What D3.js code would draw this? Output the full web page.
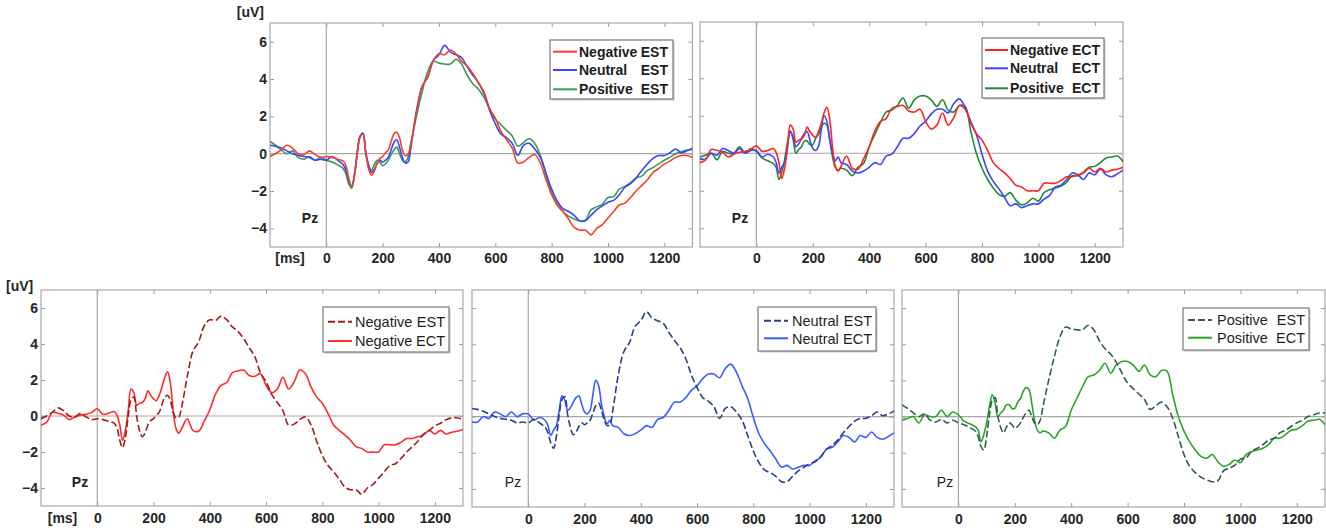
<!DOCTYPE html>
<html><head><meta charset="utf-8">
<script src="https://cdn.jsdelivr.net/npm/d3@7"></script>
<style>body{margin:0;background:#fff}</style></head>
<body>
<svg id="c" width="1326" height="530"></svg>
<script>
// ---- time points (ms) ----
const time = [-200,-180,-160,-140,-120,-100,-80,-60,-40,-20,0,20,40,
  60,70,80,90,100,110,120,130,140,150,160,170,180,190,200,210,220,230,240,250,260,270,280,290,300,
  320,340,360,380,400,420,440,460,480,500,520,540,560,580,600,620,640,660,680,700,720,740,760,780,800,
  820,840,860,880,900,920,940,960,980,1000,1020,1040,1060,1080,1100,1120,1140,1160,1180,1200,1220,1240,1260,1280,1300];

// ---- series values (uV) ----
const negativeEST = [-0.15,0.0,0.2,0.45,0.3,0.0,-0.05,0.15,-0.05,-0.2,-0.15,-0.2,-0.3,
  -0.4,-0.65,-1.35,-1.75,-1.2, 0.0,0.9,1.05,0.0,-0.8, -1.15,-0.95,-0.5,-0.25,-0.15, 0.05,0.2,0.65,1.05,1.15, 0.85,0.2,-0.1,-0.05,0.5,
  2.2,3.6,4.1,5.0,5.35, 5.3,5.55,5.35,4.95,4.7, 4.3,3.8,3.3,2.4,1.9, 1.2,0.75,0.3,-0.5,-0.45, -0.2,-0.05,-0.5,-1.4,-2.2,
  -2.75,-3.1,-3.5,-3.95,-4.1, -4.1,-4.35,-4.0,-3.8,-3.45, -3.1,-2.75,-2.65,-2.35,-2.0, -1.7,-1.4,-1.0,-0.8,-0.55, -0.4,-0.2,-0.1,-0.1,-0.2];
const neutralEST = [0.45,0.4,0.3,0.15,0.0,-0.1,-0.15,-0.2,-0.35,-0.3,-0.35,-0.15,-0.35,
  -0.6,-0.9,-1.45,-1.75,-1.1, 0.1,0.95,1.1,0.1,-0.6, -1.0,-0.85,-0.55,-0.35,-0.45, -0.35,-0.2,0.2,0.6,0.75, 0.35,-0.2,-0.5,-0.45,0.3,
  2.3,3.6,4.1,5.0,5.3, 5.8,5.45,5.3,5.15,4.65, 4.2,3.8,3.2,2.3,1.6, 1.05,0.85,0.55,-0.1,0.45, 0.55,0.25,-0.2,-1.05,-1.9,
  -2.55,-2.95,-3.1,-3.3,-3.6, -3.6,-3.3,-3.0,-2.8,-2.6, -2.5,-2.2,-1.8,-1.6,-1.3, -0.9,-0.55,-0.25,-0.1,-0.1, 0.05,0.25,0.05,0.15,0.3];
const positiveEST = [0.65,0.45,0.2,0.0,0.15,-0.2,-0.3,-0.15,-0.35,-0.2,-0.35,-0.45,-0.6,
  -0.8,-1.1,-1.65,-1.85,-1.1, 0.1,0.9,1.05,0.0,-0.6, -0.9,-0.6,-0.35,-0.45,-0.65, -0.55,-0.35,-0.05,0.2,0.35, 0.0,-0.35,-0.45,-0.2,0.55,
  2.0,3.3,4.4,4.95,4.85, 4.8,4.8,5.05,4.8,4.2, 3.75,3.45,3.0,2.4,1.85, 1.55,1.25,0.95,0.4,0.6, 0.8,0.55,-0.1,-1.1,-2.1,
  -2.75,-3.1,-3.35,-3.5,-3.6, -3.55,-3.0,-2.85,-2.7,-2.35, -2.3,-1.9,-1.75,-1.55,-1.3, -1.2,-0.9,-0.75,-0.55,-0.35, -0.2,0.0,0.1,0.2,0.2];
const negativeECT = [-0.5,-0.35,0.2,0.15,0.05,-0.2,-0.05,0.05,0.1,0.2,0.4,0.1,0.15,
  0.25,0.05,-0.5,-1.35,-0.8, 0.3,1.5,1.3,0.6,0.7, 0.75,0.95,1.4,1.15,0.95, 0.85,1.15,1.6,2.15,2.45, 1.8,0.3,-0.7,-0.95,-0.7,
  -0.15,-0.8,-0.85,-0.3,0.35, 1.2,1.7,1.85,2.4,2.5, 2.55,2.25,2.2,2.35,1.7, 1.3,1.5,2.15,1.5,1.9, 2.55,2.35,1.6,1.05,0.7,
  0.15,-0.5,-0.8,-1.05,-1.35, -1.7,-1.8,-2.0,-2.0,-2.0, -1.6,-1.6,-1.6,-1.45,-1.25, -1.25,-1.15,-1.05,-0.8,-1.0, -0.8,-1.0,-0.9,-0.85,-0.75];
const neutralECT = [-0.3,-0.3,0.0,-0.1,0.25,0.15,0.0,0.25,0.0,0.15,0.15,-0.2,-0.05,
  -0.2,-0.5,-1.05,-0.75,-0.5, 0.35,1.15,0.9,0.35,0.5, 0.8,1.05,1.15,0.7,0.25, 0.15,0.35,1.25,2.0,1.7, 0.7,0.0,-0.4,-0.2,-0.5,
  -0.6,-0.95,-1.05,-0.95,-0.75, -0.5,-0.6,-0.15,-0.05,0.35, 0.8,0.8,1.05,1.45,1.7, 2.1,2.35,2.35,2.15,2.65, 2.9,2.45,1.7,1.0,-0.05,
  -0.95,-1.5,-1.9,-2.35,-2.8, -2.7,-2.9,-2.8,-2.7,-2.7, -2.45,-2.25,-1.8,-1.7,-1.4, -1.05,-1.15,-1.4,-1.05,-1.15, -0.85,-1.15,-1.25,-1.1,-0.9];
const positiveECT = [-0.2,-0.1,0.0,-0.35,0.1,0.0,0.0,0.35,0.0,0.25,0.1,-0.25,-0.4,
  -0.55,-0.75,-1.4,-1.0,-0.35, 0.55,1.2,0.75,0.0,0.2, 0.35,0.65,0.65,0.45,0.45, 0.8,1.0,1.4,1.6,1.5, 0.75,-0.2,-0.75,-0.9,-0.8,
  -0.9,-1.2,-0.75,-0.55,0.35, 1.0,1.65,2.2,2.3,2.55, 2.95,2.4,2.85,3.05,3.05, 2.85,2.5,2.85,2.3,2.2, 2.55,2.5,1.2,0.0,-0.8,
  -1.4,-1.85,-2.2,-2.3,-2.1, -2.5,-2.75,-2.65,-2.4,-2.55, -2.1,-1.95,-1.85,-1.75,-1.55, -1.2,-1.2,-1.0,-0.75,-0.7, -0.5,-0.25,-0.2,-0.15,-0.45];

// ---- ticks ----
const xTicks = [0,200,400,600,800,1000,1200];
const yTicks = [-4,-2,0,2,4,6];
const xDomain = [-200,1300];
const yDomain = [-5,7];

const FONT = '"Liberation Sans", Arial, Helvetica, sans-serif';
const svg = d3.select('#c');

const panels = [
  {x:270, y:23, w:422.5, h:224, yLab:true, labPad:6,
   uv:{x:264, y:17, anchor:'end'}, ms:{x:290, y:263},
   pz:{x:310, y:223, w:'bold'},
   series:[
     {d:negativeEST, c:'#f2402a', dash:null, name:'Negative', suf:'EST'},
     {d:neutralEST,  c:'#3a46f5', dash:null, name:'Neutral',  suf:'EST'},
     {d:positiveEST, c:'#3d9b57', dash:null, name:'Positive', suf:'EST'}],
   legend:{x:550, y:40, w:123, h:59, rows:[51.7,70,89.3], l0:553, l1:577, tx:579, sx:668, fw:'bold', fs:14}},
  {x:700, y:22, w:423, h:225, yLab:false, labPad:6,
   pz:{x:740, y:223, w:'bold'},
   series:[
     {d:negativeECT, c:'#ff2424', dash:null, name:'Negative', suf:'ECT'},
     {d:neutralECT,  c:'#3c44ff', dash:null, name:'Neutral',  suf:'ECT'},
     {d:positiveECT, c:'#1f8a3a', dash:null, name:'Positive', suf:'ECT'}],
   legend:{x:982, y:38, w:122, h:60, rows:[50,68.3,88.3], l0:985, l1:1008, tx:1010, sx:1100, fw:'bold', fs:14}},
  {x:41, y:290, w:422, h:216, yLab:true, labPad:7,
   uv:{x:6, y:291, anchor:'start'}, ms:{x:62.5, y:523},
   pz:{x:80, y:487, w:'bold'},
   series:[
     {d:negativeEST, c:'#a31c1c', dash:'7,3', name:'Negative', suf:'EST'},
     {d:negativeECT, c:'#ff2a2a', dash:null, name:'Negative', suf:'ECT'}],
   legend:{x:323, y:307, w:126, h:45, rows:[321.7,341], l0:328, l1:352, tx:355, sx:445, fw:'normal', fs:14.5}},
  {x:472, y:290, w:422, h:217, yLab:false, labPad:7,
   pz:{x:513, y:487, w:'normal'},
   series:[
     {d:neutralEST, c:'#2b3d8c', dash:'7,3', name:'Neutral', suf:'EST'},
     {d:neutralECT, c:'#3a5cff', dash:null, name:'Neutral', suf:'ECT'}],
   legend:{x:758, y:307, w:118, h:44, rows:[320.7,338.3], l0:764, l1:788, tx:792, sx:872, fw:'normal', fs:14.5}},
  {x:902, y:290, w:423, h:217, yLab:false, labPad:7,
   pz:{x:945, y:487, w:'normal'},
   series:[
     {d:positiveEST, c:'#2e5e4a', dash:'7,3', name:'Positive', suf:'EST'},
     {d:positiveECT, c:'#2aa52a', dash:null, name:'Positive', suf:'ECT'}],
   legend:{x:1183, y:308, w:126, h:42, rows:[320,337.7], l0:1188, l1:1212, tx:1217, sx:1305, fw:'normal', fs:14.5}}
];

panels.forEach((p, pi) => {
  const x = d3.scaleLinear().domain(xDomain).range([p.x, p.x + p.w]);
  const y = d3.scaleLinear().domain(yDomain).range([p.y + p.h, p.y]);
  const g = svg.append('g');

  const styleAxis = (ax) => {
    ax.select('.domain').remove();
    ax.selectAll('line').attr('stroke', '#9a9a9a');
    ax.selectAll('text').attr('font-family', FONT).attr('font-size', 14)
      .attr('font-weight', 'bold').attr('fill', '#262626');
  };

  // inward tick marks on all four sides
  styleAxis(g.append('g').attr('transform', `translate(0,${p.y + p.h})`)
    .call(d3.axisBottom(x).tickValues(xTicks).tickFormat(d3.format('d'))
      .tickSizeInner(-4).tickSizeOuter(0).tickPadding(p.labPad)));
  styleAxis(g.append('g').attr('transform', `translate(0,${p.y})`)
    .call(d3.axisTop(x).tickValues(xTicks).tickSizeInner(-4).tickSizeOuter(0).tickFormat('')));
  const left = g.append('g').attr('transform', `translate(${p.x},0)`)
    .call(d3.axisLeft(y).tickValues(yTicks).tickSizeInner(-4).tickSizeOuter(0).tickPadding(3)
      .tickFormat(p.yLab ? d3.format('d') : ''));
  styleAxis(left);
  styleAxis(g.append('g').attr('transform', `translate(${p.x + p.w},0)`)
    .call(d3.axisRight(y).tickValues(yTicks).tickSizeInner(-4).tickSizeOuter(0).tickFormat('')));

  // frame
  g.append('rect').attr('x', p.x).attr('y', p.y).attr('width', p.w).attr('height', p.h)
    .attr('fill', 'none').attr('stroke', '#a8a8a8').attr('stroke-width', 1.2);

  // zero lines
  g.append('line').attr('x1', x(xDomain[0])).attr('x2', x(xDomain[1]))
    .attr('y1', y(0)).attr('y2', y(0)).attr('stroke', '#a6a6a6').attr('stroke-width', 1.2);
  g.append('line').attr('x1', x(0)).attr('x2', x(0))
    .attr('y1', p.y).attr('y2', p.y + p.h).attr('stroke', '#a6a6a6').attr('stroke-width', 1.2);

  // curves
  const clipId = 'clip' + pi;
  svg.append('clipPath').attr('id', clipId).append('rect')
    .attr('x', p.x).attr('y', p.y).attr('width', p.w).attr('height', p.h);
  const line = d3.line().x((v, i) => x(time[i])).y(v => y(v)).curve(d3.curveCatmullRom.alpha(0.5));
  const cg = g.append('g').attr('clip-path', `url(#${clipId})`);
  p.series.slice().reverse().forEach(s => {
    cg.append('path').attr('d', line(s.d)).attr('fill', 'none')
      .attr('stroke', s.c).attr('stroke-width', 1.6)
      .attr('stroke-dasharray', s.dash).attr('stroke-linejoin', 'round');
  });

  // Pz
  g.append('text').attr('x', p.pz.x).attr('y', p.pz.y).attr('text-anchor', 'middle')
    .attr('font-family', FONT).attr('font-size', 14).attr('font-weight', p.pz.w)
    .attr('fill', '#222').text('Pz');

  // axis unit labels
  if (p.uv) g.append('text').attr('x', p.uv.x).attr('y', p.uv.y).attr('text-anchor', p.uv.anchor)
    .attr('font-family', FONT).attr('font-size', 14).attr('font-weight', 'bold').attr('fill', '#262626').text('[uV]');
  if (p.ms) g.append('text').attr('x', p.ms.x).attr('y', p.ms.y).attr('text-anchor', 'middle')
    .attr('font-family', FONT).attr('font-size', 14).attr('font-weight', 'bold').attr('fill', '#262626').text('[ms]');

  // legend
  const L = p.legend;
  g.append('rect').attr('x', L.x + 1.5).attr('y', L.y + 1.5).attr('width', L.w).attr('height', L.h)
    .attr('fill', '#c8c8c8');
  g.append('rect').attr('x', L.x).attr('y', L.y).attr('width', L.w).attr('height', L.h)
    .attr('fill', '#fff').attr('stroke', '#7a7a7a').attr('stroke-width', 1.2);
  p.series.forEach((s, i) => {
    const ry = L.rows[i];
    g.append('line').attr('x1', L.l0).attr('x2', L.l1).attr('y1', ry).attr('y2', ry)
      .attr('stroke', s.c).attr('stroke-width', 2).attr('stroke-dasharray', s.dash);
    g.append('text').attr('x', L.tx).attr('y', ry).attr('dy', '0.36em')
      .attr('font-family', FONT).attr('font-size', L.fs).attr('font-weight', L.fw)
      .attr('fill', '#1e1e1e').text(s.name);
    g.append('text').attr('x', L.sx).attr('y', ry).attr('dy', '0.36em').attr('text-anchor', 'end')
      .attr('font-family', FONT).attr('font-size', L.fs).attr('font-weight', L.fw)
      .attr('fill', '#1e1e1e').text(s.suf);
  });
});
</script>
</body></html>
